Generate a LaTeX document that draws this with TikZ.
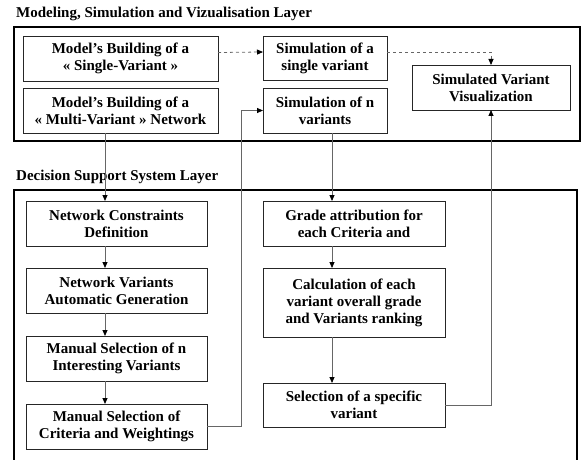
\documentclass[tikz,border=0pt]{standalone}
\usepackage{fontspec}
\setmainfont{Liberation Serif}
\usetikzlibrary{arrows.meta,positioning}
\definecolor{wire}{gray}{0.4}

\begin{document}
\begin{tikzpicture}[x=1pt,y=-1pt,
  font=\bfseries\fontsize{15}{17}\selectfont,
  box/.style={draw=black!85,rectangle,align=center,inner sep=2pt,outer sep=0pt,minimum height=45pt},
  link/.style={draw=wire,line width=0.8pt,-{Triangle[length=6pt,width=5pt,color=black]}},
  layer/.style={line width=2pt}]
\useasboundingbox (0,0) rectangle (582,460);
% modeling layer
\node[anchor=west,inner sep=0] (toptitle) at (16,14) {Modeling, Simulation and Vizualisation Layer};
\draw[layer] (14,27) rectangle (580,141);
\node[box,minimum width=195pt,anchor=north west] (single) at (23,36) {Model's Building of a\\« Single-Variant »};
\node[box,minimum width=195pt,below=7pt of single] (multi) {Model's Building of a\\« Multi-Variant » Network};
\node[box,minimum width=124pt,minimum height=44pt,anchor=north west] (simone) at (263,36) {Simulation of a\\single variant};
\node[box,minimum width=124pt,below=8pt of simone] (simn) {Simulation of n\\variants};
\node[box,minimum width=158pt,anchor=north west] (visu) at (412,65) {Simulated Variant\\Visualization};
% decision layer
\node[anchor=west,inner sep=0] (bottitle) at (16,177) {Decision Support System Layer};
\draw[layer] (14,460) -- (14,190) -- (577,190) -- (577,460);
\node[box,minimum width=181pt,anchor=north west] (constr) at (26,201) {Network Constraints\\Definition};
\node[box,minimum width=181pt,below=22pt of constr] (autogen) {Network Variants\\Automatic Generation};
\node[box,minimum width=181pt,below=23pt of autogen] (nsel) {Manual Selection of n\\Interesting Variants};
\node[box,minimum width=181pt,below=23pt of nsel] (crit) {Manual Selection of\\Criteria and Weightings};
\node[box,minimum width=182pt,anchor=north west] (grade) at (263,201) {Grade attribution for\\each Criteria and};
\node[box,minimum width=182pt,minimum height=69pt,below=22pt of grade] (calc) {Calculation of each\\variant overall grade\\and Variants ranking};
\node[box,minimum width=182pt,minimum height=44pt,below=46pt of calc] (spec) {Selection of a specific\\variant};
% connectors
\coordinate (lcol) at (105,0);
\coordinate (rcol) at (332,0);
\coordinate (bend) at (241,0);
\draw[link,dashed] ([yshift=6pt]single.east) -- ([yshift=6pt]simone.west);
\draw[link,dashed] ([yshift=6pt]simone.east) -| (visu.north);
\draw[link] (multi.south -| lcol) -- (constr.north -| lcol);
\draw[link] (constr.south -| lcol) -- (autogen.north -| lcol);
\draw[link] (autogen.south -| lcol) -- (nsel.north -| lcol);
\draw[link] (nsel.south -| lcol) -- (crit.north -| lcol);
\draw[link] (simn.south -| rcol) -- (grade.north -| rcol);
\draw[link] (grade.south -| rcol) -- (calc.north -| rcol);
\draw[link] (calc.south -| rcol) -- (spec.north -| rcol);
\draw[link] (crit.east) -- (crit.east -| bend) |- (simn.west);
\draw[link] (spec.east) -| (visu.south);
\end{tikzpicture}
\end{document}
